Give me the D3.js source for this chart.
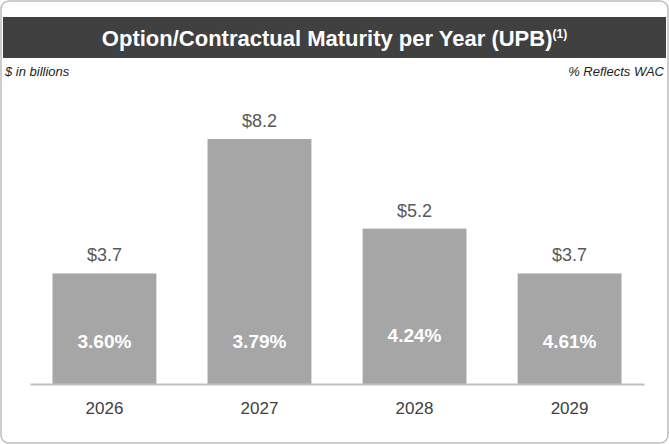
<!DOCTYPE html>
<html><head><meta charset="utf-8">
<script src="https://cdn.jsdelivr.net/npm/d3@7"></script>
<style>body{margin:0;background:#fff}</style>
</head><body>
<script>
var years = ["2026", "2027", "2028", "2029"];
var upb = [3.7, 8.2, 5.2, 3.7];
var wac = ["3.60%", "3.79%", "4.24%", "4.61%"];

var W = 669, H = 444;
var svg = d3.select("body").append("svg").attr("width", W).attr("height", H);

// frame
svg.append("rect").attr("x", 1).attr("y", 1).attr("width", W - 2).attr("height", H - 2)
  .attr("rx", 8).attr("fill", "#fff").attr("stroke", "#bdbdbd").attr("stroke-width", 1.5);

// header
svg.append("rect").attr("x", 3).attr("y", 17).attr("width", W - 6).attr("height", 41).attr("fill", "#404040");
var t = svg.append("text").attr("x", W / 2).attr("y", 46).attr("text-anchor", "middle")
  .attr("fill", "#fff").attr("font-family", "Liberation Sans, Arial, sans-serif")
  .attr("font-weight", "bold").attr("font-size", 22);
t.append("tspan").text("Option/Contractual Maturity per Year (UPB)");
t.append("tspan").attr("font-size", 12).attr("dy", -8).text("(1)");

svg.append("text").attr("x", 5).attr("y", 76).attr("font-style", "italic")
  .attr("font-family", "Liberation Sans, Arial, sans-serif").attr("font-size", 13).attr("fill", "#222")
  .text("$ in billions");
svg.append("text").attr("x", W - 5).attr("y", 76).attr("text-anchor", "end").attr("font-style", "italic")
  .attr("font-family", "Liberation Sans, Arial, sans-serif").attr("font-size", 13).attr("fill", "#222")
  .text("% Reflects WAC");

var x = d3.scaleBand().domain(years).range([30, 644]).paddingInner(0.33).paddingOuter(0.145);
var y = d3.scaleLinear().domain([0, 8.2]).range([384, 139]);

var g = svg.append("g").attr("font-family", "Liberation Sans, Arial, sans-serif");
g.selectAll("rect.bar").data(years).enter().append("rect").attr("class", "bar")
  .attr("x", function(d) { return x(d); })
  .attr("y", function(d, i) { return y(upb[i]); })
  .attr("width", x.bandwidth())
  .attr("height", function(d, i) { return y(0) - y(upb[i]); })
  .attr("fill", "#a6a6a6");

g.selectAll("text.val").data(years).enter().append("text")
  .attr("x", function(d) { return x(d) + x.bandwidth() / 2; })
  .attr("y", function(d, i) { return y(upb[i]) - 12; })
  .attr("text-anchor", "middle").attr("font-size", 18).attr("fill", "#595959")
  .text(function(d, i) { return "$" + upb[i].toFixed(1); });

g.selectAll("text.wac").data(years).enter().append("text")
  .attr("x", function(d) { return x(d) + x.bandwidth() / 2; })
  .attr("y", function(d, i) { return i == 2 ? 342 : 348; })
  .attr("text-anchor", "middle").attr("font-size", 19).attr("font-weight", "bold").attr("fill", "#fff")
  .text(function(d, i) { return wac[i]; });

var ax = svg.append("g").attr("transform", "translate(0,384)")
  .call(d3.axisBottom(x).tickSize(0).tickPadding(18));
ax.select(".domain").attr("stroke", "#bfbfbf").attr("stroke-width", 2);
ax.selectAll("text").attr("font-family", "Liberation Sans, Arial, sans-serif")
  .attr("font-size", 17).attr("fill", "#404040");
</script>
</body></html>
